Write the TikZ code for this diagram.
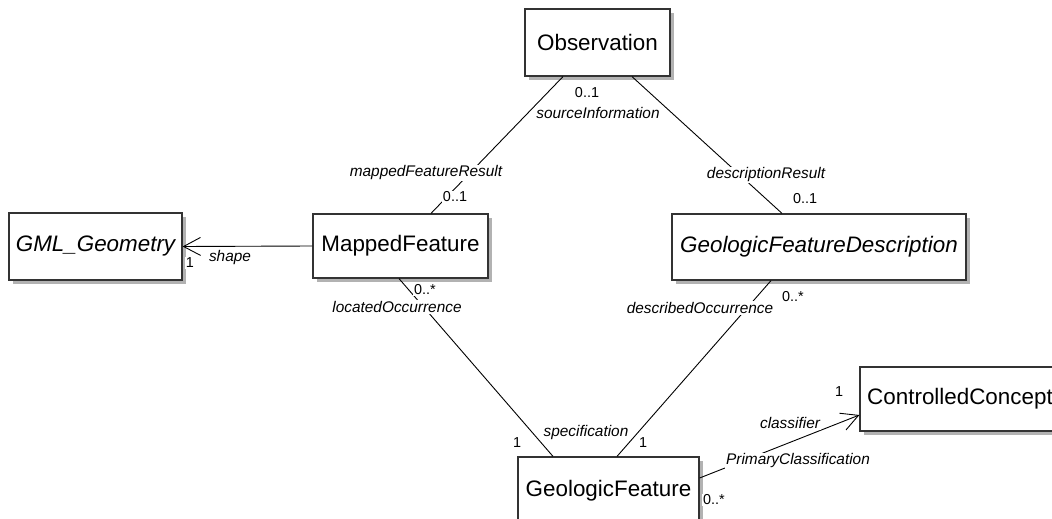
\documentclass[tikz,border=0pt]{standalone}
\usepackage{fontspec}
\setmainfont{Liberation Sans}
\usetikzlibrary{arrows.meta,shadows}

\tikzset{
  classbox/.style={draw=black!80, line width=1.2pt, fill=white, inner sep=0pt,
    font=\fontsize{22.4}{26}\selectfont,
    drop shadow={shadow xshift=4pt, shadow yshift=-4pt, fill=black!30, opacity=1}},
  abstractbox/.style={classbox, font=\fontsize{22.4}{26}\selectfont\itshape},
  rolelabel/.style={fill=white, inner sep=1pt, font=\fontsize{15.4}{18}\selectfont\itshape},
  multlabel/.style={fill=white, inner sep=1pt, font=\fontsize{14.4}{17}\selectfont},
  assoc/.style={line width=0.9pt, black},
  navigable/.style={assoc, -{Straight Barb[length=17pt,width=18pt,line width=0.9pt]}}
}

\begin{document}
\begin{tikzpicture}[x=1pt,y=-1pt]
\useasboundingbox (0,0) rectangle (1052,519);

\node[classbox, minimum width=145pt, minimum height=67pt] (obs) at (597.5,42.5) {Observation};
\node[abstractbox, minimum width=173pt, minimum height=67pt] (gml) at (95.5,246.5) {GML\_Geometry};
\node[classbox, minimum width=175pt, minimum height=64pt] (mf) at (400.5,246) {MappedFeature};
\node[abstractbox, minimum width=294pt, minimum height=66pt] (gfd) at (819,247) {GeologicFeatureDescription};
\node[classbox, minimum width=181pt, minimum height=67pt] (gf) at (608.5,490.5) {GeologicFeature};
\node[classbox, minimum width=200pt, minimum height=64pt] (cc) at (960,399) {ControlledConcept};

\draw[assoc] ([xshift=-34.5pt]obs.south) -- ([xshift=30.5pt]mf.north);
\draw[assoc] ([xshift=34.5pt]obs.south) -- ([xshift=-37pt]gfd.north);
\draw[assoc] ([xshift=-1.5pt]mf.south) -- ([xshift=-55.5pt]gf.north);
\draw[assoc] ([xshift=-48pt]gfd.south) -- ([xshift=8.5pt]gf.north);
\draw[navigable] (mf.west) -- (gml.east);
\draw[navigable] ([yshift=12.5pt]gf.east) -- ([yshift=-16pt]cc.west);

\foreach \x/\y/\lab/\nm in {
598/113/sourceInformation/src,
426/173/mappedFeatureResult/mfr,
766/175/descriptionResult/dr,
397/307/locatedOccurrence/lo,
700/308/describedOccurrence/do,
586/433/specification/spec,
230/258/shape/shp,
790/423/classifier/cls,
798/461/PrimaryClassification/pc}
{
    \node[rolelabel] (r\nm) at (\x,\y) {\lab};
}

\foreach \x/\y/\lab/\nm in {
587/93/{0..1}/obs,
455/197/{0..1}/mf,
805/199/{0..1}/gfd,
425/290/{0..*}/mfb,
793/297/{0..*}/gfdb,
517/443/{1}/gfl,
643/443/{1}/gfr,
190/263/{1}/gml,
839/392/{1}/cc,
714/500/{0..*}/gf}
{
    \node[multlabel] (m\nm) at (\x,\y) {\lab};
}
\end{tikzpicture}
\end{document}
